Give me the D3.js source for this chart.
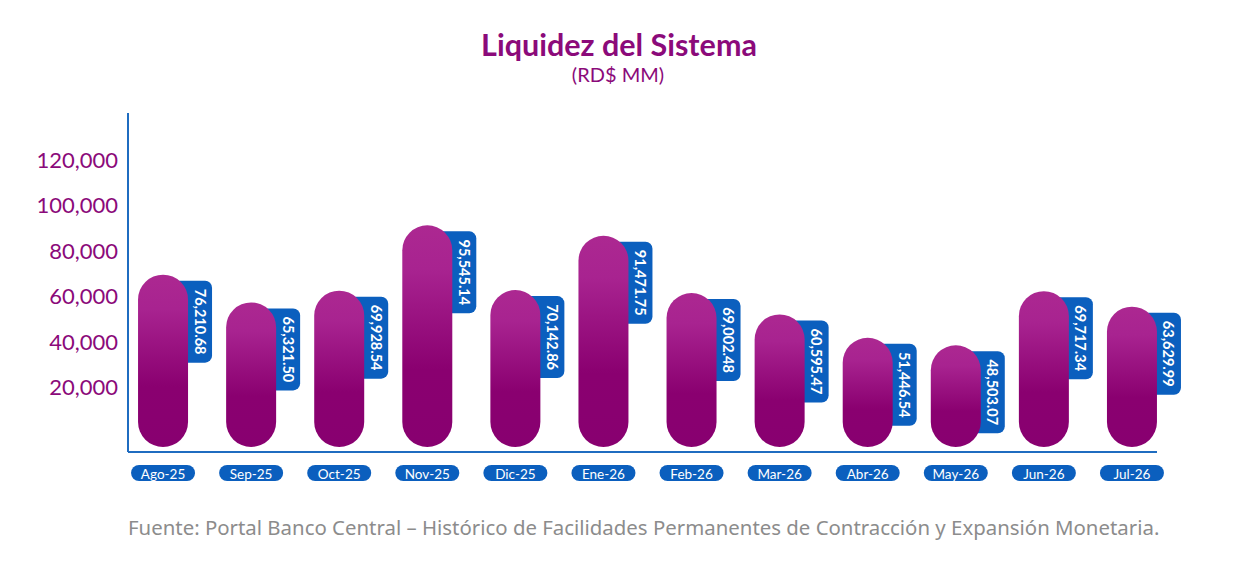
<!DOCTYPE html>
<html>
<head>
<meta charset="utf-8">
<script src="https://cdn.jsdelivr.net/npm/d3@7"></script>
<style>
  body { margin: 0; background: #fff; }
  #wrapper { width: 1250px; height: 580px; }
</style>
</head>
<body>
<div id="wrapper"></div>
<script>
// chart data
const months = ["Ago-25", "Sep-25", "Oct-25", "Nov-25", "Dic-25", "Ene-26",
  "Feb-26", "Mar-26", "Abr-26", "May-26", "Jun-26", "Jul-26"];
const liquidez = [76210.68, 65321.50, 69928.54, 95545.14, 70142.86, 91471.75,
  69002.48, 60595.47, 51446.54, 48503.07, 69717.34, 63629.99];
const yTicks = [20000, 40000, 60000, 80000, 100000, 120000];
const titleText = "Liquidez del Sistema";
const subtitleText = "(RD$ MM)";
const sourceText = "Fuente: Portal Banco Central – Histórico de Facilidades Permanentes de Contracción y Expansión Monetaria.";

const drawChart = () => {
  const dimensions = {
    width: 1250,
    height: 580,
    axisX: 128,     // vertical axis line
    axisTop: 113,
    baseline: 452,  // horizontal axis line
    barBottom: 447,
    barWidth: 50,
  }

  const purple = "#8B0A7A"
  const blue = "#0B5FBE"

  const svg = d3.select("#wrapper")
    .append("svg")
      .attr("width", dimensions.width)
      .attr("height", dimensions.height)
      .style("font-family", "Lato, 'Open Sans', sans-serif")

  // gradient for the pills (light top -> dark bottom)
  const grad = svg.append("defs")
    .append("linearGradient")
      .attr("id", "pill")
      .attr("x1", 0).attr("y1", 0)
      .attr("x2", 0).attr("y2", 1)
  grad.append("stop").attr("offset", "0%").attr("stop-color", "#AC2891")
  grad.append("stop").attr("offset", "20%").attr("stop-color", "#A82390")
  grad.append("stop").attr("offset", "65%").attr("stop-color", "#8A0070")
  grad.append("stop").attr("offset", "100%").attr("stop-color", "#880070")

  // scales
  const xScale = d3.scalePoint()
    .domain(months)
    .range([119, 1176])
    .padding(0.5)

  // axis labels scale
  const yScale = d3.scaleLinear()
    .domain([0, 120000])
    .range([433.5, 160])

  // the pills are drawn on their own (truncated) scale, as in the original
  const barScale = d3.scaleLinear()
    .domain([8600, 120000])
    .range([dimensions.barBottom, 163])

  // title
  svg.append("text")
    .attr("x", 619)
    .attr("y", 56)
    .attr("text-anchor", "middle")
    .attr("fill", purple)
    .style("font-size", "30.5px")
    .style("font-weight", "bold")
    .text(titleText)

  svg.append("text")
    .attr("x", 618)
    .attr("y", 82)
    .attr("text-anchor", "middle")
    .attr("fill", purple)
    .style("font-size", "20px")
    .text(subtitleText)

  // y axis labels
  const yAxisGenerator = d3.axisLeft(yScale)
    .tickValues(yTicks)
    .tickSize(0)
    .tickPadding(10)
    .tickFormat(d3.format(","))

  const yAxis = svg.append("g")
    .attr("transform", `translate(${dimensions.axisX},0)`)
    .call(yAxisGenerator)
  yAxis.select(".domain").remove()
  yAxis.selectAll("text")
    .attr("fill", purple)
    .style("font-size", "22px")
    .style("font-family", "Lato, 'Open Sans', sans-serif")

  // axis lines
  svg.append("line")
    .attr("x1", dimensions.axisX).attr("x2", dimensions.axisX)
    .attr("y1", dimensions.axisTop).attr("y2", dimensions.baseline)
    .attr("stroke", "#1F6CC0")
    .attr("stroke-width", 2)

  svg.append("line")
    .attr("x1", dimensions.axisX).attr("x2", 1157)
    .attr("y1", dimensions.baseline).attr("y2", dimensions.baseline)
    .attr("stroke", "#1F6CC0")
    .attr("stroke-width", 2)

  const bars = svg.append("g")
    .selectAll("g")
    .data(months.map((m, i) => ({ month: m, value: liquidez[i] })))
    .join("g")

  // value label boxes (behind the pills)
  bars.append("rect")
    .attr("x", d => xScale(d.month) + 5)
    .attr("y", d => barScale(d.value) + 6)
    .attr("width", 44)
    .attr("height", 82)
    .attr("rx", 7)
    .attr("fill", blue)

  bars.append("text")
    .attr("transform", d => `translate(${xScale(d.month) + 37},${barScale(d.value) + 47}) rotate(90)`)
    .attr("text-anchor", "middle")
    .attr("dominant-baseline", "central")
    .attr("fill", "#fff")
    .style("font-size", "14.5px")
    .style("font-weight", "bold")
    .text(d => d3.format(",.2f")(d.value))

  // pills
  bars.append("rect")
    .attr("x", d => xScale(d.month) - dimensions.barWidth / 2)
    .attr("y", d => barScale(d.value))
    .attr("width", dimensions.barWidth)
    .attr("height", d => dimensions.barBottom - barScale(d.value))
    .attr("rx", dimensions.barWidth / 2)
    .attr("fill", "url(#pill)")

  // month pills under the axis
  bars.append("rect")
    .attr("x", d => xScale(d.month) - 32)
    .attr("y", 465)
    .attr("width", 64)
    .attr("height", 16)
    .attr("rx", 8)
    .attr("fill", blue)

  bars.append("text")
    .attr("x", d => xScale(d.month))
    .attr("y", 473.5)
    .attr("text-anchor", "middle")
    .attr("dominant-baseline", "central")
    .attr("fill", "#fff")
    .style("font-size", "13.5px")
    .text(d => d.month)

  // source
  svg.append("text")
    .attr("x", 128)
    .attr("y", 535)
    .attr("fill", "#8C8C8C")
    .style("font-size", "20.4px")
    .style("font-family", "'Noto Sans', 'Open Sans', sans-serif")
    .text(sourceText)
}

drawChart();
</script>
</body>
</html>
